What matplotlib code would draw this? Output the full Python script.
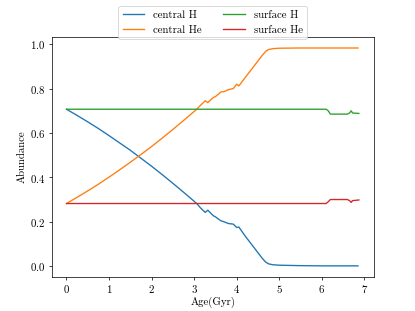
import matplotlib
matplotlib.use("Agg")
import matplotlib.pyplot as plt

# === Data ===
age_core = [0.0, 0.25, 0.5, 0.75, 1.0, 1.25, 1.5, 1.75, 2.0, 2.25, 2.5, 2.75, 3.0,
            3.06, 3.15, 3.26, 3.32, 3.45, 3.5, 3.57, 3.63, 3.7, 3.8, 3.92, 4.0,
            4.05, 4.2, 4.4, 4.6, 4.68, 4.75, 4.85, 5.0, 5.5, 6.0, 6.5, 6.85]
central_H = [0.707, 0.679, 0.650, 0.620, 0.588, 0.555, 0.522, 0.486, 0.450, 0.412,
             0.373, 0.333, 0.292, 0.282, 0.262, 0.242, 0.252, 0.227, 0.222, 0.212,
             0.204, 0.200, 0.192, 0.189, 0.174, 0.176, 0.135, 0.085, 0.035, 0.018,
             0.010, 0.006, 0.004, 0.002, 0.001, 0.001, 0.001]
central_He = [0.282, 0.310, 0.339, 0.369, 0.401, 0.434, 0.468, 0.503, 0.539, 0.577,
              0.616, 0.656, 0.697, 0.707, 0.725, 0.745, 0.737, 0.760, 0.764, 0.775,
              0.785, 0.786, 0.795, 0.800, 0.820, 0.812, 0.850, 0.900, 0.950, 0.968,
              0.976, 0.980, 0.982, 0.983, 0.983, 0.983, 0.983]

age_surf = [0.0, 6.1, 6.15, 6.2, 6.6, 6.65, 6.69, 6.72, 6.87]
surface_H = [0.707, 0.707, 0.700, 0.685, 0.685, 0.690, 0.700, 0.690, 0.688]
surface_He = [0.282, 0.282, 0.290, 0.300, 0.300, 0.295, 0.287, 0.295, 0.298]

# === Style ===
plt.rcParams['font.family'] = 'serif'
plt.rcParams['font.serif'] = ['cmr10', 'DejaVu Serif']
plt.rcParams['mathtext.fontset'] = 'cm'
plt.rcParams['axes.formatter.use_mathtext'] = True
plt.rcParams['axes.unicode_minus'] = False
plt.rcParams['font.size'] = 12

fig, ax = plt.subplots(figsize=(6.4, 4.8), dpi=415 / 6.4)

ax.plot(age_core, central_H, label="central H")
ax.plot(age_core, central_He, label="central He")
ax.plot(age_surf, surface_H, label="surface H")
ax.plot(age_surf, surface_He, label="surface He")

ax.set_xlabel("Age(Gyr)", labelpad=2)
ax.set_ylabel("Abundance")
ax.legend(loc='lower center', bbox_to_anchor=(0.5, 0.99), ncol=2, borderaxespad=0)

fig.savefig("out.png")
